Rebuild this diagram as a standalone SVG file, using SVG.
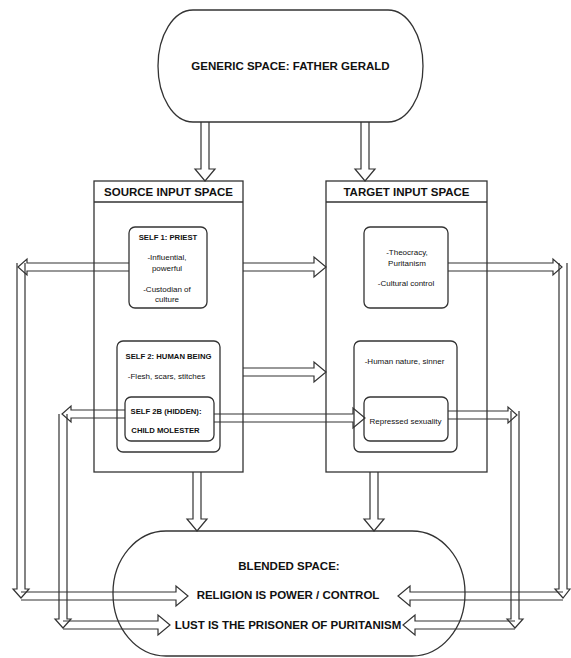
<svg xmlns="http://www.w3.org/2000/svg" width="571" height="658" viewBox="0 0 571 658">
<style>
.box{fill:#fff;stroke:#333;stroke-width:1.3}
.arr{fill:none;stroke:#333;stroke-width:1.2;stroke-linejoin:miter}
.hd{font-family:"Liberation Sans",Arial,sans-serif;font-weight:bold;fill:#111;text-anchor:middle;font-size:11.5px}
.sh{font-family:"Liberation Sans",Arial,sans-serif;font-weight:bold;fill:#111;text-anchor:middle;font-size:7.7px}
.t{font-family:"Liberation Sans",Arial,sans-serif;fill:#111;text-anchor:middle;font-size:8px}
</style>
<rect width="571" height="658" fill="#fff"/>
<g id="generic">
<rect class="box" x="158" y="10" width="265" height="112" rx="35" ry="56"/>
<text class="hd" x="290.5" y="70">GENERIC SPACE: FATHER GERALD</text>
</g>
<g id="source">
<rect class="box" x="94" y="181" width="149" height="291"/>
<line x1="94" y1="202" x2="243" y2="202" stroke="#333" stroke-width="1.3"/>
<text class="hd" x="168.5" y="196">SOURCE INPUT SPACE</text>
</g>
<g id="target">
<rect class="box" x="326" y="181" width="161" height="291"/>
<line x1="326" y1="202" x2="487" y2="202" stroke="#333" stroke-width="1.3"/>
<text class="hd" x="406.5" y="196">TARGET INPUT SPACE</text>
</g>
<g id="self1">
<rect class="box" x="129" y="227" width="78" height="81" rx="6"/>
<text class="sh" x="168" y="240">SELF 1: PRIEST</text>
<text class="t" x="167" y="260">-Influential,</text>
<text class="t" x="167" y="271">powerful</text>
<text class="t" x="167" y="292">-Custodian of</text>
<text class="t" x="167" y="302">culture</text>
</g>
<g id="target1">
<rect class="box" x="364" y="227" width="84" height="81" rx="6"/>
<text class="t" x="407" y="255">-Theocracy,</text>
<text class="t" x="407" y="266">Puritanism</text>
<text class="t" x="406" y="286">-Cultural control</text>
</g>
<g id="self2">
<rect class="box" x="117" y="341" width="103" height="111" rx="6"/>
<text class="sh" x="168.5" y="359">SELF 2: HUMAN BEING</text>
<text class="t" x="166.5" y="379">-Flesh, scars, stitches</text>
</g>
<g id="self2b">
<rect class="box" x="125" y="397" width="89" height="44" rx="6"/>
<text class="sh" x="166" y="414">SELF 2B (HIDDEN):</text>
<text class="sh" x="165.5" y="433">CHILD MOLESTER</text>
</g>
<g id="target2">
<rect class="box" x="354" y="341" width="103" height="111" rx="6"/>
<text class="t" x="404.5" y="364">-Human nature, sinner</text>
</g>
<g id="target2b">
<rect class="box" x="364" y="397" width="84" height="44" rx="6"/>
<text class="t" x="405.5" y="424">Repressed sexuality</text>
</g>
<g id="blended">
<rect class="box" x="113" y="531" width="352" height="125" rx="53" ry="62"/>
<text class="hd" x="289" y="570">BLENDED SPACE:</text>
<text class="hd" x="288" y="599">RELIGION IS POWER / CONTROL</text>
<text class="hd" x="288" y="629">LUST IS THE PRISONER OF PURITANISM</text>
</g>
<g id="connectors">
<path class="arr" d="M201,122 V169 H195 L205,181 L215,169 H209 V122"/>
<path class="arr" d="M361,122 V169 H355 L365,181 L375,169 H369 V122"/>
<path class="arr" d="M193,472 V519 H187 L197,531 L207,519 H201 V472"/>
<path class="arr" d="M370,472 V519 H364 L374,531 L384,519 H378 V472"/>
<path class="arr" d="M243,263 H314 V257 L326,267 L314,277 V271 H243"/>
<path class="arr" d="M243,368 H314 V362 L326,372 L314,382 V376 H243"/>
<path class="arr" d="M214,414 H353 V408 L365,418 L353,428 V422 H214"/>
<path class="arr" d="M129,263 H27 V259 L18,267 L27,275 V271 H129"/>
<path class="arr" d="M17,263 V589 H13 L21,598 L29,589 H25 V263"/>
<path class="arr" d="M21,592 H176 V586 L188,596 L176,606 V600 H21"/>
<path class="arr" d="M125,410 H71 V406 L62,414 L71,422 V418 H125"/>
<path class="arr" d="M59,414 V619 H55 L63,628 L71,619 H67 V414"/>
<path class="arr" d="M63,621 H158 V615 L170,625 L158,635 V629 H63"/>
<path class="arr" d="M448,263 H553 V259 L562,267 L553,275 V271 H448"/>
<path class="arr" d="M559,263 V589 H555 L563,598 L570,589 H567 V263"/>
<path class="arr" d="M563,592 H410 V586 L398,596 L410,606 V600 H563"/>
<path class="arr" d="M448,411 H508 V407 L517,415 L508,423 V419 H448"/>
<path class="arr" d="M511,411 V619 H507 L515,628 L523,619 H519 V411"/>
<path class="arr" d="M515,621 H415 V615 L403,625 L415,635 V629 H515"/>
</g>
</svg>
